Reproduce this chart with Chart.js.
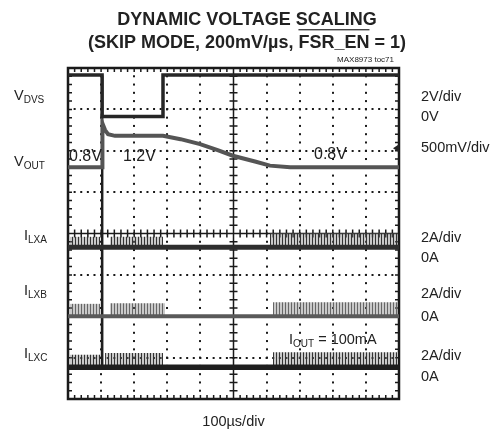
<!DOCTYPE html>
<html>
<head>
<meta charset="utf-8">
<script src="https://cdn.jsdelivr.net/npm/chart.js@4.4.0/dist/chart.umd.min.js"></script>
<style>
  html, body { margin: 0; padding: 0; background: #fff; }
</style>
</head>
<body>
<canvas id="scope" width="495" height="437"></canvas>
<script>
// time base: 100us/div, 10 divisions
const timeMin = 0;
const timeMax = 1000;

// V_DVS (volts) vs time (us)
const vdvsTime  = [0, 103, 103, 287, 287, 1000];
const vdvsVolts = [2.0, 2.0, 0, 0, 2.0, 2.0];

// V_OUT (volts) vs time (us)
const voutTime  = [0, 103, 104, 112, 121, 142, 287, 340, 399, 450, 498, 565, 610, 671, 1000];
const voutVolts = [0.8, 0.8, 1.33, 1.25, 1.2, 1.18, 1.18, 1.14, 1.08, 1.01, 0.94, 0.87, 0.82, 0.8, 0.8];

// inductor currents: quiet level (A) and switching bursts [start us, end us, peak A]
const ilxaTime = [0, 1000];
const ilxaAmps = [0, 0];
const ilxaBursts = [[6, 97, 0.5], [127, 287, 0.5], [610, 997, 0.68]];

const ilxbTime = [0, 1000];
const ilxbAmps = [0, 0];
const ilxbBursts = [[6, 97, 0.6], [127, 293, 0.63], [619, 997, 0.68]];

const ilxcTime = [0, 1000];
const ilxcAmps = [0, 0];
const ilxcBursts = [[6, 97, 0.6], [112, 287, 0.68], [619, 995, 0.72]];
// narrow spike at the DVS edge
const ilxcSpikeTime = [102, 103, 104];
const ilxcSpikeAmps = [0, 14.1, 0];

// scope channel settings: zero position (div from bottom) and units per div
const channels = {
  vdvs: { zero: 6.83, perDiv: 2 },
  vout: { zero: 4.0, perDiv: 0.5 },
  ilxa: { zero: 3.67, perDiv: 2 },
  ilxb: { zero: 2.0, perDiv: 2 },
  ilxc: { zero: 0.77, perDiv: 2 }
};

const toDiv = (ch, v) => channels[ch].zero + v / channels[ch].perDiv;
const points = (ch, ts, vs) => ts.map((t, i) => ({ x: t, y: toDiv(ch, vs[i]) }));

function comb(dark) {
  const c = document.createElement("canvas");
  c.width = 3; c.height = 1;
  const g = c.getContext("2d");
  g.fillStyle = dark;
  g.fillRect(0, 0, 1, 1);
  g.fillStyle = "rgba(120,120,120,0.4)";
  g.fillRect(1, 0, 2, 1);
  return g.createPattern(c, "repeat");
}

function burstSets(ch, bursts, dark) {
  const base = toDiv(ch, 0);
  return bursts.map(([t0, t1, peak]) => ({
    data: [
      { x: t0, y: base }, { x: t0, y: toDiv(ch, peak) },
      { x: t1, y: toDiv(ch, peak) }, { x: t1, y: base }
    ],
    borderWidth: 0,
    backgroundColor: comb(dark),
    fill: { value: base },
    order: 5
  }));
}

const datasets = [
  { data: points("vdvs", vdvsTime, vdvsVolts), borderColor: "#262626", borderWidth: 3.5, order: 1 },
  { data: points("vout", voutTime, voutVolts), borderColor: "#555", borderWidth: 4, order: 1 },
  { data: points("ilxa", ilxaTime, ilxaAmps), borderColor: "#2e2e2e", borderWidth: 5, order: 1 },
  { data: points("ilxb", ilxbTime, ilxbAmps), borderColor: "#5a5a5a", borderWidth: 4, order: 1 },
  { data: points("ilxc", ilxcTime, ilxcAmps), borderColor: "#1e1e1e", borderWidth: 5.5, order: 1 },
  { data: points("ilxc", ilxcSpikeTime, ilxcSpikeAmps), borderColor: "#1e1e1e", borderWidth: 2, order: 1 },
  ...burstSets("ilxa", ilxaBursts, "#333"),
  ...burstSets("ilxb", ilxbBursts, "#666"),
  ...burstSets("ilxc", ilxcBursts, "#333")
];

// dotted graticule, centre cross and frame
const graticule = {
  id: "graticule",
  beforeDatasetsDraw(chart) {
    const { ctx, chartArea: a, scales: { x, y } } = chart;
    ctx.save();
    ctx.fillStyle = "#1a1a1a";
    for (let i = 1; i < 10; i++) {
      if (i === 5) continue;
      const px = Math.round(x.getPixelForValue(i * 100));
      for (let k = 1; k < 40; k++) {
        const py = y.getPixelForValue(k * 0.2);
        ctx.fillRect(px - 1, py - 1, 2, 2);
      }
    }
    for (let j = 1; j < 8; j++) {
      if (j === 4) continue;
      const py = Math.round(y.getPixelForValue(j));
      for (let k = 1; k < 50; k++) {
        const px = x.getPixelForValue(k * 20);
        ctx.fillRect(px - 1, py - 1, 2, 2);
      }
    }
    const cx = x.getPixelForValue(500), cy = y.getPixelForValue(4);
    ctx.strokeStyle = "#1a1a1a";
    ctx.lineWidth = 1.5;
    ctx.beginPath();
    ctx.moveTo(a.left, cy); ctx.lineTo(a.right, cy);
    ctx.moveTo(cx, a.top); ctx.lineTo(cx, a.bottom);
    for (let k = 1; k < 50; k++) {
      const px = x.getPixelForValue(k * 20);
      ctx.moveTo(px, cy - 4); ctx.lineTo(px, cy + 4);
      ctx.moveTo(px, a.top); ctx.lineTo(px, a.top + 4);
      ctx.moveTo(px, a.bottom); ctx.lineTo(px, a.bottom - 4);
    }
    for (let k = 1; k < 40; k++) {
      const py = y.getPixelForValue(k * 0.2);
      ctx.moveTo(cx - 4, py); ctx.lineTo(cx + 4, py);
      ctx.moveTo(a.left, py); ctx.lineTo(a.left + 4, py);
      ctx.moveTo(a.right, py); ctx.lineTo(a.right - 4, py);
    }
    ctx.stroke();
    ctx.lineWidth = 2.5;
    ctx.strokeRect(a.left, a.top, a.right - a.left, a.bottom - a.top);
    ctx.restore();
  }
};

function sub(ctx, main, small, x, y, size) {
  ctx.font = size + "px 'Liberation Sans', Arial, sans-serif";
  ctx.fillText(main, x, y);
  const w = ctx.measureText(main).width;
  ctx.font = Math.round(size * 0.72) + "px 'Liberation Sans', Arial, sans-serif";
  ctx.fillText(small, x + w, y + 3);
  return w + ctx.measureText(small).width;
}

const labels = {
  id: "labels",
  afterDraw(chart) {
    const { ctx, scales: { x, y } } = chart;
    ctx.save();
    ctx.fillStyle = "#222";
    ctx.textBaseline = "alphabetic";
    ctx.textAlign = "center";
    ctx.font = "bold 18px 'Liberation Sans', Arial, sans-serif";
    ctx.fillText("DYNAMIC VOLTAGE SCALING", 247, 25);
    ctx.fillText("(SKIP MODE, 200mV/\u00b5s, FSR_EN = 1)", 247, 48);
    // overline on FSR_EN
    const full = ctx.measureText("(SKIP MODE, 200mV/\u00b5s, FSR_EN = 1)").width;
    const pre = ctx.measureText("(SKIP MODE, 200mV/\u00b5s, ").width;
    const fsr = ctx.measureText("FSR_EN").width;
    const x0 = 247 - full / 2 + pre;
    ctx.fillStyle = "#444";
    ctx.fillRect(x0, 29, fsr, 1.4);
    ctx.fillStyle = "#222";

    ctx.textAlign = "right";
    ctx.font = "8px 'Liberation Sans', Arial, sans-serif";
    ctx.fillText("MAX8973 toc71", 394, 62);

    ctx.textAlign = "left";
    sub(ctx, "V", "DVS", 14, 100, 14.5);
    sub(ctx, "V", "OUT", 14, 166, 14.5);
    sub(ctx, "I", "LXA", 24, 240, 14.5);
    sub(ctx, "I", "LXB", 24, 295, 14.5);
    sub(ctx, "I", "LXC", 24, 358, 14.5);

    ctx.font = "14.5px 'Liberation Sans', Arial, sans-serif";
    const rx = 421;
    [["2V/div", 101], ["0V", 121], ["500mV/div", 152], ["2A/div", 242], ["0A", 262],
     ["2A/div", 298], ["0A", 321], ["2A/div", 360], ["0A", 381]].forEach(([t, ty]) => ctx.fillText(t, rx, ty));

    ctx.font = "16px 'Liberation Sans', Arial, sans-serif";
    ctx.fillText("0.8V", 69, 161);
    ctx.fillText("1.2V", 123, 161);
    ctx.fillText("0.8V", 314, 159);
    const iw = sub(ctx, "I", "OUT", 289, 344, 14.5);
    ctx.font = "14.5px 'Liberation Sans', Arial, sans-serif";
    ctx.fillText(" = 100mA", 289 + iw, 344);

    ctx.textAlign = "center";
    ctx.fillText("100\u00b5s/div", x.getPixelForValue(500), 426);

    // trigger level marker at right edge
    const ty = y.getPixelForValue(toDiv("vout", 1.03));
    const tx = x.getPixelForValue(timeMax);
    ctx.beginPath();
    ctx.moveTo(tx - 6, ty); ctx.lineTo(tx, ty - 4); ctx.lineTo(tx, ty + 4); ctx.closePath();
    ctx.fill();
    ctx.restore();
  }
};

new Chart(document.getElementById("scope"), {
  type: "line",
  data: { datasets },
  options: {
    responsive: false,
    animation: false,
    layout: { padding: { left: 68, top: 68, right: 96, bottom: 38 } },
    elements: { point: { radius: 0 }, line: { tension: 0 } },
    scales: {
      x: { type: "linear", min: timeMin, max: timeMax, display: false },
      y: { type: "linear", min: 0, max: 8, display: false }
    },
    plugins: { legend: { display: false }, tooltip: { enabled: false } }
  },
  plugins: [graticule, labels]
});
</script>
</body>
</html>
